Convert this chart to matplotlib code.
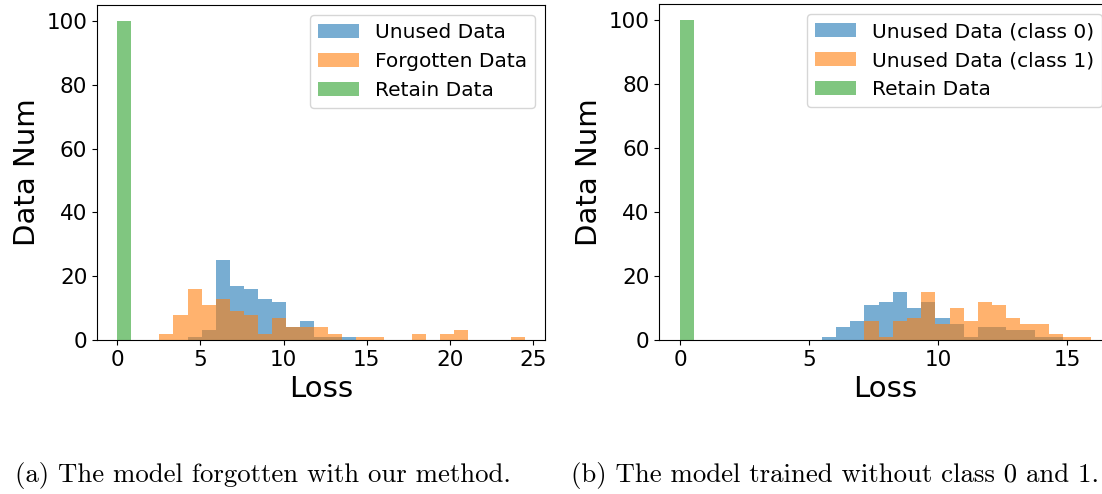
import numpy as np
import matplotlib
matplotlib.use("Agg")
import matplotlib.pyplot as plt

# ---- data (counts per bin, 29 bins starting at loss 0) ----
n_bins = 29
left_max_loss = 24.5
right_max_loss = 15.95

left_unused = {5: 1, 6: 3, 7: 25, 8: 17, 9: 16, 10: 13, 11: 12, 12: 4,
               13: 6, 14: 1, 15: 1, 16: 1}
left_forgotten = {3: 2, 4: 8, 5: 16, 6: 11, 7: 13, 8: 9, 9: 8, 10: 2, 11: 7,
                  12: 4, 13: 4, 14: 4, 15: 2, 17: 1, 18: 1, 21: 2, 23: 2,
                  24: 3, 28: 1}
left_retain = {0: 100}

right_class0 = {10: 1, 11: 4, 12: 6, 13: 11, 14: 12, 15: 15, 16: 10, 17: 12,
                18: 7, 19: 5, 20: 1, 21: 4, 22: 4, 23: 3, 24: 3, 25: 1, 26: 1}
right_class1 = {13: 6, 14: 1, 15: 6, 16: 7, 17: 15, 18: 5, 19: 10, 20: 6,
                21: 12, 22: 11, 23: 7, 24: 5, 25: 5, 26: 2, 27: 1, 28: 1}
right_retain = {0: 100}

left_labels = ["Unused Data", "Forgotten Data", "Retain Data"]
right_labels = ["Unused Data (class 0)", "Unused Data (class 1)", "Retain Data"]
captions = ["(a) The model forgotten with our method.",
            "(b) The model trained without class 0 and 1."]


def counts(d):
    return np.array([d.get(i, 0) for i in range(n_bins)], dtype=float)


fig = plt.figure(figsize=(11.02, 4.94), dpi=100)

ax1 = fig.add_axes([0.088, 0.3117, 0.4065, 0.678])
ax2 = fig.add_axes([0.5983, 0.3117, 0.4108, 0.680])

colors = ["#1f77b4", "#ff7f0e", "#2ca02c"]

for ax, maxl, series, labels in [
    (ax1, left_max_loss, [left_unused, left_forgotten, left_retain], left_labels),
    (ax2, right_max_loss, [right_class0, right_class1, right_retain], right_labels),
]:
    edges = np.linspace(0, maxl, n_bins + 1)
    centers = 0.5 * (edges[:-1] + edges[1:])
    for s, lab, c in zip(series, labels, colors):
        ax.hist(centers, bins=edges, weights=counts(s), alpha=0.6,
                color=c, label=lab)
    ax.set_xlabel("Loss", fontsize=21)
    ax.set_ylabel("Data Num", fontsize=21)
    ax.tick_params(labelsize=15.5)
    ax.set_yticks([0, 20, 40, 60, 80, 100])
    ax.set_ylim(0, 105)
    ax.legend(loc="upper right", fontsize=14.5)

ax1.set_xlim(-1.22, 25.72)
ax1.set_xticks([0, 5, 10, 15, 20, 25])
ax2.set_xlim(-0.8, 16.75)
ax2.set_xticks([0, 5, 10, 15])
ax2.spines["right"].set_visible(False)

fig.text(15 / 1102, 0.038, captions[0], fontsize=19.3, family="cmr10",
         ha="left", va="center")
fig.text(1099 / 1102, 0.038, captions[1], fontsize=19.3, family="cmr10",
         ha="right", va="center")

fig.savefig("out.png", dpi=100)
